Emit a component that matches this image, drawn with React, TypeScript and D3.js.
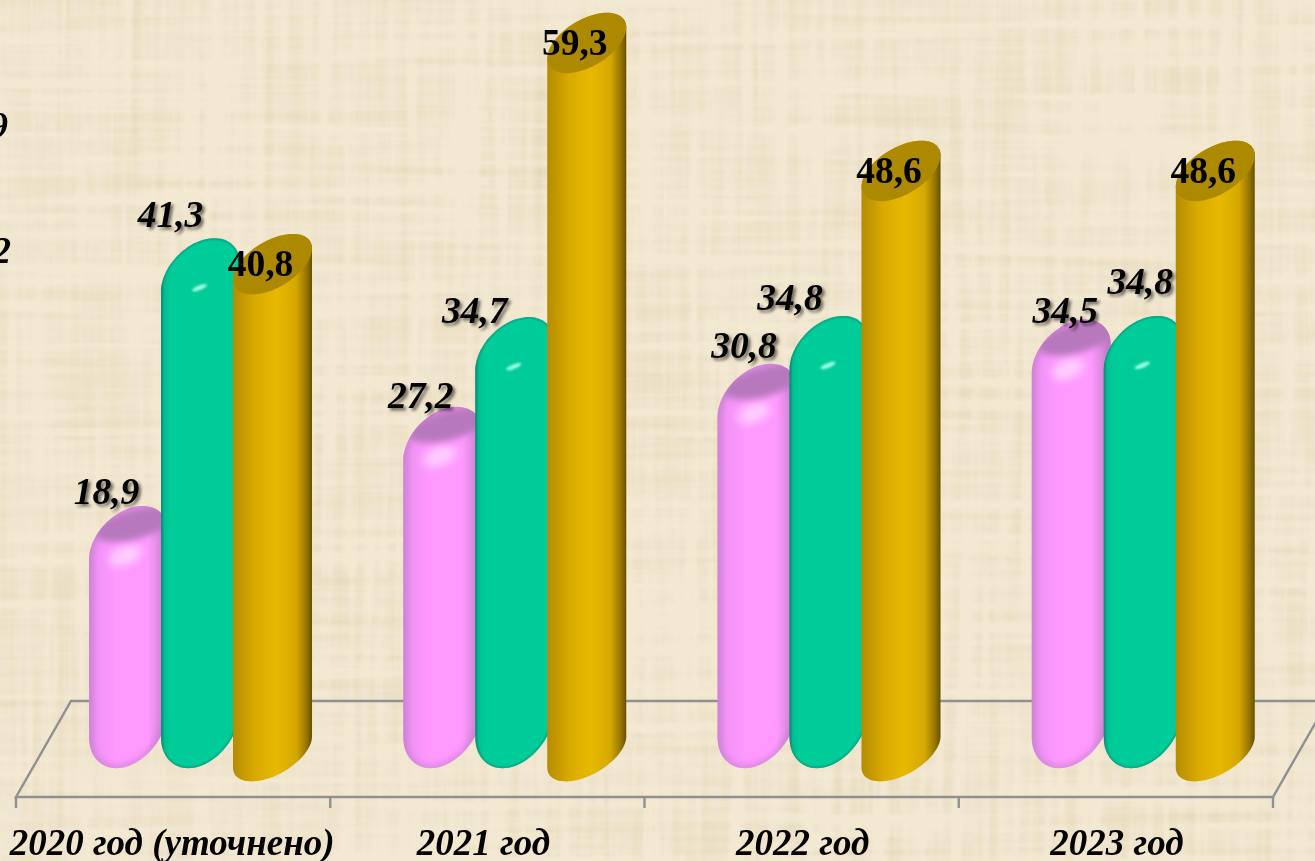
import React from "react";
import * as d3 from "d3";

const categories = ["2020 год (уточнено)", "2021 год", "2022 год", "2023 год"];
const seriesNames = ["pink", "green", "gold"];
const pinkValues = [18.9, 27.2, 30.8, 34.5];
const greenValues = [41.3, 34.7, 34.8, 34.8];
const goldValues = [40.8, 59.3, 48.6, 48.6];

const W = 1315;
const H = 861;
const BAR_W = 79;
const FONT = "'Liberation Serif', 'Times New Roman', serif";

// the labels do not sit in one fixed spot over the bars, so nudge them by hand
const pinkNudge = [[-22, -2], [-22, 2], [-13, -5], [-6, 4]];
const greenNudge = [[-30, -11], [-40, 6], [-39, -5], [-3, -21]];
const categoryNudge = [-1, -4, 1, 1];

const x = d3.scaleBand<string>().domain(categories).range([16, 1273]);
const inner = d3.scaleBand<string>().domain(seriesNames).range([73, 289]);
const y = d3.scaleLinear().domain([0, 59.3]).range([752, 43]);

const fmt = (v: number) => v.toFixed(1).replace(".", ",");

const lineGen = d3.line();
const arcPoints = (cx: number, cy: number, s: number, h: number, from: number, to: number) =>
  d3.range(0, 41).map((i) => {
    const t = from + ((to - from) * i) / 40;
    return [
      cx + (BAR_W / 2) * Math.cos(t),
      cy - s * Math.cos(t) + h * Math.sin(t),
    ] as [number, number];
  });

// rounded bar: soft cap on top and bottom
const capsule = (cx: number, top: number) =>
  lineGen([
    ...arcPoints(cx, top + 40, 14, 37, Math.PI, 2 * Math.PI),
    ...arcPoints(cx, 723, 14, 43, 0, Math.PI),
  ]) + "Z";

// cylinder: flat tilted ellipse on top and bottom
const cylinder = (cx: number, cy: number) =>
  lineGen([
    ...arcPoints(cx, cy, 15.5, 26, Math.PI, 2 * Math.PI),
    ...arcPoints(cx, 752, 15.5, 25, 0, Math.PI),
  ]) + "Z";

const ellipsePath = (cx: number, cy: number, s: number, h: number) =>
  lineGen(arcPoints(cx, cy, s, h, 0, 2 * Math.PI)) + "Z";

const capTop = (v: number) => y(v) - 20.5;

export default function App() {
  const names = categories;
  const step = x.step();
  const tickXs = [...names.map((c) => x(c) as number), 1273];

  return (
    <svg
      width={W}
      height={H}
      viewBox={`0 0 ${W} ${H}`}
      style={{ position: "absolute", left: 0, top: 0, display: "block" }}
    >
      <defs>
        <filter id="weave" x="0" y="0" width="100%" height="100%">
          <feTurbulence type="fractalNoise" baseFrequency="0.004 0.09" numOctaves="3" seed="4" result="a" />
          <feTurbulence type="fractalNoise" baseFrequency="0.09 0.004" numOctaves="3" seed="9" result="b" />
          <feBlend in="a" in2="b" mode="multiply" />
          <feColorMatrix
            type="matrix"
            values="0 0 0 0 0.66  0 0 0 0 0.56  0 0 0 0 0.36  0.6 0.6 0 0 -0.42"
          />
          <feGaussianBlur stdDeviation="0.7" />
        </filter>
        <linearGradient id="pinkFill" x1="0" x2="1" y1="0" y2="0">
          <stop offset="0" stopColor="#dc88e2" />
          <stop offset="0.12" stopColor="#f293f6" />
          <stop offset="0.35" stopColor="#ff99ff" />
          <stop offset="0.75" stopColor="#ff99ff" />
          <stop offset="0.9" stopColor="#d888dc" />
          <stop offset="1" stopColor="#b474bc" />
        </linearGradient>
        <linearGradient id="greenFill" x1="0" x2="1" y1="0" y2="0">
          <stop offset="0" stopColor="#0a8f7c" />
          <stop offset="0.04" stopColor="#00bd90" />
          <stop offset="0.12" stopColor="#00cc99" />
          <stop offset="1" stopColor="#00cc99" />
        </linearGradient>
        <linearGradient id="goldFill" x1="0" x2="1" y1="0" y2="0">
          <stop offset="0" stopColor="#b48c00" />
          <stop offset="0.28" stopColor="#d9aa00" />
          <stop offset="0.55" stopColor="#e8b900" />
          <stop offset="0.8" stopColor="#d5a800" />
          <stop offset="0.93" stopColor="#967500" />
          <stop offset="1" stopColor="#665000" />
        </linearGradient>
        <filter id="soft6" x="-40%" y="-40%" width="180%" height="180%">
          <feGaussianBlur stdDeviation="5" />
        </filter>
        <filter id="soft3" x="-40%" y="-40%" width="180%" height="180%">
          <feGaussianBlur stdDeviation="3" />
        </filter>
        <filter id="soft1" x="-40%" y="-40%" width="180%" height="180%">
          <feGaussianBlur stdDeviation="1" />
        </filter>
        <filter id="textShadow" x="-20%" y="-20%" width="150%" height="150%">
          <feDropShadow dx="2.5" dy="2.5" stdDeviation="1.6" floodColor="#000" floodOpacity="0.55" />
        </filter>
        <filter id="scan" x="0" y="0" width="100%" height="100%">
          <feGaussianBlur stdDeviation="0.45" />
        </filter>
        {names.flatMap((c, i) =>
          seriesNames.slice(0, 2).map((s) => {
            const values = s === "pink" ? pinkValues : greenValues;
            const cx = (x(c) as number) + (inner(s) as number) + BAR_W / 2;
            return (
              <clipPath id={`clip-${s}-${i}`} key={`${s}-${i}`}>
                <path d={capsule(cx, capTop(values[i]))} />
              </clipPath>
            );
          })
        )}
      </defs>

      <rect width={W} height={H} fill="#f3e9d2" />
      <rect width={W} height={H} filter="url(#weave)" />

      <g filter="url(#scan)">
        {/* floor */}
        <g fill="none" stroke="#8e9091" strokeWidth={2.4}>
          <path d="M16,797 L71,701 L1328,701 L1273,797 Z" />
          {tickXs.map((t) => (
            <line key={t} x1={t} x2={t} y1={797} y2={808} />
          ))}
        </g>

        {/* bars */}
        {names.map((c, i) => {
          const x0 = x(c) as number;
          const pinkCx = x0 + (inner("pink") as number) + BAR_W / 2;
          const greenCx = x0 + (inner("green") as number) + BAR_W / 2;
          const goldCx = x0 + (inner("gold") as number) + BAR_W / 2;
          const pinkTop = capTop(pinkValues[i]);
          const greenTop = capTop(greenValues[i]);
          const goldY = y(goldValues[i]);
          return (
            <g key={c}>
              <path d={capsule(pinkCx, pinkTop)} fill="url(#pinkFill)" />
              <g clipPath={`url(#clip-pink-${i})`}>
                <path
                  d={capsule(pinkCx, pinkTop)}
                  fill="none"
                  stroke="#c47fcc"
                  strokeWidth={5}
                  opacity={0.85}
                  filter="url(#soft3)"
                />
                <ellipse
                  cx={pinkCx - 3}
                  cy={pinkTop + 50}
                  rx={17}
                  ry={9}
                  fill="#ffd6ff"
                  opacity={0.9}
                  filter="url(#soft6)"
                  transform={`rotate(-20 ${pinkCx - 3} ${pinkTop + 50})`}
                />
                <path
                  d={ellipsePath(pinkCx + 6, pinkTop + 19, 9, 15)}
                  fill="#b878bd"
                  filter="url(#soft3)"
                />
              </g>

              <path d={capsule(greenCx, greenTop)} fill="url(#greenFill)" />
              <g clipPath={`url(#clip-green-${i})`}>
                <path
                  d={capsule(greenCx, greenTop)}
                  fill="none"
                  stroke="#0a8a78"
                  strokeWidth={2}
                  filter="url(#soft1)"
                />
                <ellipse
                  cx={greenCx - 1}
                  cy={greenTop + 50}
                  rx={8}
                  ry={2.2}
                  fill="#a8ffe4"
                  filter="url(#soft1)"
                  transform={`rotate(-22 ${greenCx - 1} ${greenTop + 50})`}
                />
              </g>

              <path d={cylinder(goldCx, goldY)} fill="url(#goldFill)" />
              <path d={ellipsePath(goldCx, goldY, 15.5, 26)} fill="#ad8900" />
            </g>
          );
        })}

        {/* value labels */}
        <g fontFamily={FONT} fontSize={37.5} fontWeight="bold" textAnchor="middle" fill="#000">
          {names.map((c, i) => {
            const x0 = x(c) as number;
            const pinkCx = x0 + (inner("pink") as number) + BAR_W / 2;
            const greenCx = x0 + (inner("green") as number) + BAR_W / 2;
            const goldCx = x0 + (inner("gold") as number) + BAR_W / 2;
            return (
              <g key={c}>
                <text
                  x={pinkCx + pinkNudge[i][0]}
                  y={capTop(pinkValues[i]) + pinkNudge[i][1]}
                  fontStyle="italic"
                  filter="url(#textShadow)"
                >
                  {fmt(pinkValues[i])}
                </text>
                <text
                  x={greenCx + greenNudge[i][0]}
                  y={capTop(greenValues[i]) + greenNudge[i][1]}
                  fontStyle="italic"
                  filter="url(#textShadow)"
                >
                  {fmt(greenValues[i])}
                </text>
                <text x={goldCx - 12} y={y(goldValues[i]) + 12}>
                  {fmt(goldValues[i])}
                </text>
              </g>
            );
          })}
        </g>

        {/* category labels */}
        <g fontFamily={FONT} fontSize={37} fontWeight="bold" fontStyle="italic" textAnchor="middle">
          {names.map((c, i) => (
            <text key={c} x={(x(c) as number) + step / 2 + categoryNudge[i]} y={855}>
              {c}
            </text>
          ))}
        </g>

        {/* legend text cut off by the left edge, same as in the source picture */}
        <g fontFamily={FONT} fontSize={37} fontWeight="bold" fontStyle="italic" textAnchor="end">
          <text x={8} y={138}>9</text>
          <text x={11} y={263}>2</text>
        </g>
      </g>
    </svg>
  );
}
